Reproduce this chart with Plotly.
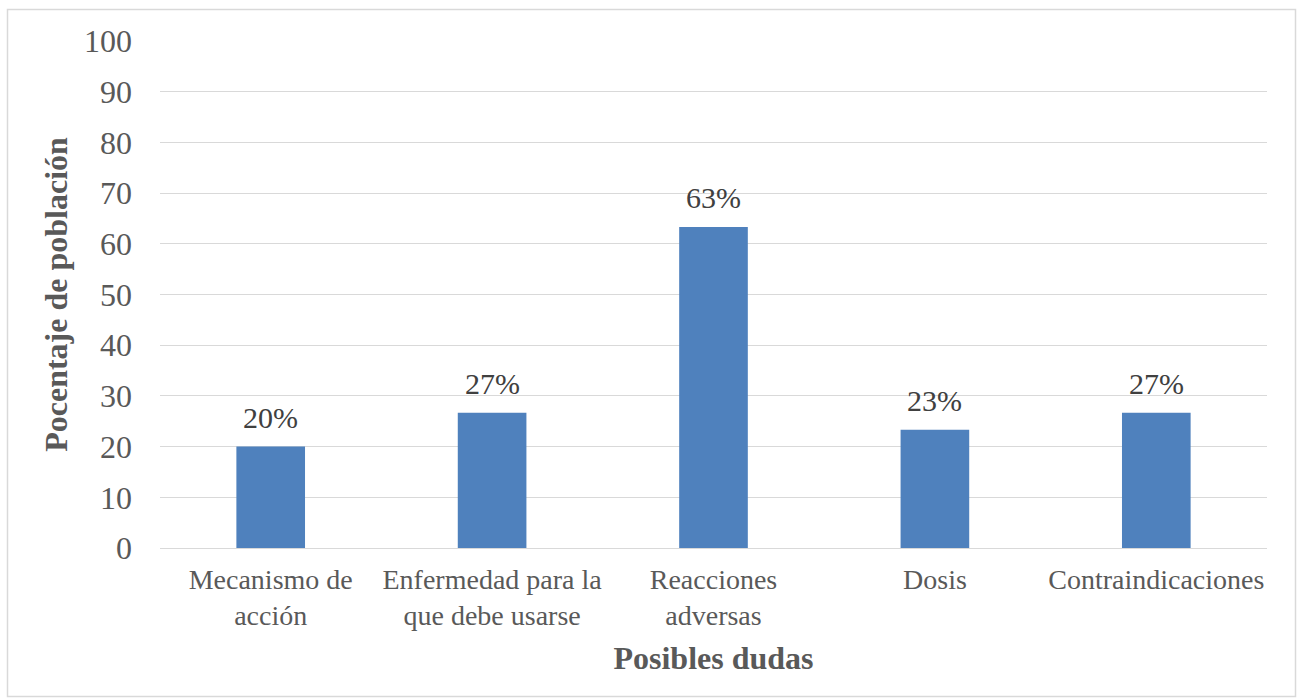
import plotly.graph_objects as go

categories = ["Mecanismo de<br>acción", "Enfermedad para la<br>que debe usarse",
              "Reacciones<br>adversas", "Dosis", "Contraindicaciones"]
values = [20.0, 26.67, 63.33, 23.33, 26.67]
labels = ["20%", "27%", "63%", "23%", "27%"]
y_ticks = list(range(0, 101, 10))

W, H = 1301, 698
L, R, T, B = 160, 34, 41, 150
pw, ph = W - L - R, H - T - B

def px_x(x):
    return (x - L) / pw

def px_y(y):
    return (H - B - y) / ph

fig = go.Figure(go.Bar(
    x=categories, y=values,
    marker=dict(color="#4F81BD", line=dict(width=0)),
    width=0.31,
))

for c, v, t in zip(categories, values, labels):
    fig.add_annotation(x=c, y=v, text=t, showarrow=False, yanchor="bottom",
                       yshift=11, font=dict(family="Liberation Serif", size=30, color="#404040"))

fig.update_layout(
    width=W, height=H, margin=dict(l=L, r=R, t=T, b=B),
    paper_bgcolor="white", plot_bgcolor="white",
    font=dict(family="Liberation Serif", color="#595959"),
    showlegend=False,
    xaxis=dict(
        tickfont=dict(size=28, color="#595959"), showgrid=False,
        showline=True, linecolor="#d9d9d9", linewidth=1, ticks="",
        ticklabelstandoff=6,
        title=dict(text="<b>Posibles dudas</b>", font=dict(size=32, color="#595959"), standoff=16),
    ),
    yaxis=dict(
        range=[0, 100], tickvals=y_ticks, tickfont=dict(size=32, color="#595959"),
        showgrid=True, gridcolor="#d9d9d9", gridwidth=1, zeroline=False, ticks="",
        ticklabelstandoff=27,
        title=dict(text="<b>Pocentaje de población</b>", font=dict(size=32, color="#595959"), standoff=6),
    ),
    bargap=0.69,
    shapes=[dict(type="rect", xref="paper", yref="paper",
                 x0=px_x(7.5), x1=px_x(1295.5), y0=px_y(696.5), y1=px_y(9.5),
                 line=dict(color="#d9d9d9", width=1.5), fillcolor="rgba(0,0,0,0)", layer="below")],
)

fig.write_html("out.html")
